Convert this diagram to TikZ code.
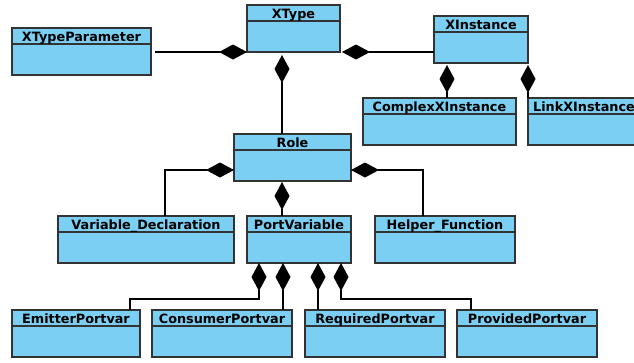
\documentclass[tikz,border=0pt]{standalone}
\usepackage{fontspec}
\setmainfont{DejaVu Sans}
\usetikzlibrary{arrows.meta}
\definecolor{clsfill}{RGB}{122,207,243}
\definecolor{clsline}{RGB}{51,51,51}
\tikzset{
 clsbox/.style={draw=clsline, fill=clsfill, line width=1.4pt, inner sep=0pt, outer sep=0pt, anchor=north west, minimum height=47pt},
 clsdiv/.style={draw=clsline, line width=1.4pt},
 clstitle/.style={anchor=base, inner sep=0pt, font=\bfseries\fontsize{12.8}{14}\selectfont},
 comp/.style={draw=black, line width=1.1pt, {Diamond[length=28pt,width=15pt]}-},
}
\newcommand\umlclass[5]{%
 \node[clsbox, minimum width=#4pt-#2pt] (#1) at (#2,#3) {};
 \draw[clsdiv] ([yshift=-16pt]#1.north west) -- ([yshift=-16pt]#1.north east);
 \node[clstitle] (#1-t) at ([yshift=-13.5pt]#1.north) {#5};
}
\begin{document}
\begin{tikzpicture}[x=1pt,y=-1pt]
\useasboundingbox (0,0) rectangle (634,362);
\umlclass{XTypeParameter}{12}{28}{151}{XTypeParameter}
\umlclass{XType}{247}{5}{340}{XType}
\umlclass{XInstance}{434}{16}{528}{XInstance}
\umlclass{Complex}{363}{98}{516}{ComplexXInstance}
\umlclass{LinkX}{528}{98}{640}{LinkXInstance}
\umlclass{Role}{234}{134}{351}{Role}
\umlclass{VD}{58}{216}{234}{Variable\_Declaration}
\umlclass{PV}{247}{216}{351}{PortVariable}
\umlclass{HF}{375}{216}{515}{Helper\_Function}
\umlclass{Emitter}{12}{310}{140}{EmitterPortvar}
\umlclass{Consumer}{152}{310}{292}{ConsumerPortvar}
\umlclass{Required}{305}{310}{445}{RequiredPortvar}
\umlclass{Provided}{457}{310}{597}{ProvidedPortvar}

\draw[comp] (XType.south west) -- ([xshift=4pt]XTypeParameter.east |- XType.south west);
\draw[comp, shorten <=2pt] (XType.south east) -- (XInstance.west |- XType.south east);
\draw[comp, shorten <=3pt] ([xshift=35pt]XType.south west) -- ([xshift=48pt]Role.north west);
\draw[comp, shorten <=2pt] ([xshift=13pt]XInstance.south west) -- ([xshift=84pt]Complex.north west);
\draw[comp, shorten <=2pt] (XInstance.south east) -- (LinkX.north west);
\draw[comp] ([yshift=-36pt]Role.north west) -| ([xshift=107pt]VD.north west);
\draw[comp] ([yshift=-36pt]Role.north east) -| ([xshift=48pt]HF.north west);
\draw[comp, shorten <=1pt] ([xshift=48pt]Role.south west) -- ([xshift=35pt]PV.north west);
\draw[comp] ([xshift=12pt]PV.south west) |- ([xshift=118pt,yshift=11pt]Emitter.north west) -- ([xshift=118pt]Emitter.north west);
\draw[comp] ([xshift=36pt]PV.south west) -- ([xshift=131pt]Consumer.north west);
\draw[comp] ([xshift=71pt]PV.south west) -- ([xshift=13pt]Required.north west);
\draw[comp] ([xshift=94pt]PV.south west) |- ([xshift=14pt,yshift=11pt]Provided.north west) -- ([xshift=14pt]Provided.north west);
\end{tikzpicture}
\end{document}
